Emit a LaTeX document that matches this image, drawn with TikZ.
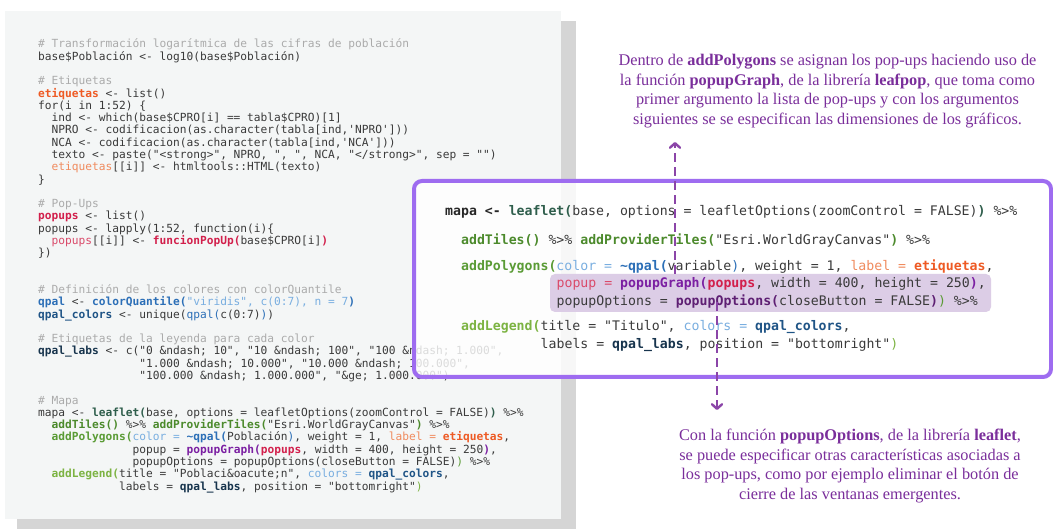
\documentclass[tikz,border=0pt]{standalone}
\usepackage{fontspec}
\setmainfont{Liberation Serif}
\setmonofont{DejaVu Sans Mono}
\usetikzlibrary{arrows.meta}

% syntax colours
\definecolor{cmt}{HTML}{ABABAB}
\definecolor{txt}{HTML}{3A3A3A}
\definecolor{orn}{HTML}{EE5A24}
\definecolor{ornl}{HTML}{F08B5E}
\definecolor{crm}{HTML}{D21F4B}
\definecolor{crml}{HTML}{DA4A6A}
\definecolor{blu}{HTML}{2C6FB7}
\definecolor{blul}{HTML}{79AEE0}
\definecolor{nav}{HTML}{1F5486}
\definecolor{nvd}{HTML}{17344D}
\definecolor{tea}{HTML}{2F5E4C}
\definecolor{grn}{HTML}{4C8A2C}
\definecolor{grm}{HTML}{5A9B35}
\definecolor{grl}{HTML}{7CB342}
\definecolor{pur}{HTML}{7B1FA2}
\definecolor{pud}{HTML}{5E1F73}
% page colours
\definecolor{panelbg}{HTML}{F4F6F6}
\definecolor{panelsh}{HTML}{D5D5D5}
\definecolor{boxline}{HTML}{9E6CF0}
\definecolor{hlfill}{HTML}{DCCDE6}
\definecolor{notecol}{HTML}{7A2E9B}
\definecolor{arrcol}{HTML}{8B45A8}

\tikzset{
  lcode/.style={anchor=base west, inner sep=0pt, text=txt,
    font=\ttfamily\fontsize{11.2}{12.28}\selectfont},
  bcode/.style={anchor=base west, inner sep=0pt, text=txt,
    font=\ttfamily\fontsize{13.2}{18}\selectfont},
  note/.style={align=center, text=notecol, inner sep=0pt,
    font=\fontsize{16.3}{19.7}\selectfont},
  callout/.style={draw=arrcol, line width=2.7pt, dash pattern=on 9pt off 5pt,
    -{Straight Barb[length=4.5pt,width=10pt,line width=2.4pt,round]}},
}

% left listing: name, indent (chars), row, text
\newcommand\codeL[4]{\node[lcode] (#1) at ({38+#2*6.75},{48+12.28*#3}) {#4};}
% framed listing: name, indent (chars), baseline, text
\newcommand\codeB[4]{\node[bcode] (#1) at ({445+#2*7.96},{#3}) {#4};}

\begin{document}
\begin{tikzpicture}[x=1pt,y=-1pt]
\useasboundingbox (0,0) rectangle (1053,529);
\fill[white] (0,0) rectangle (1053,529);

% script panel with its drop shadow
\fill[panelsh] (17,21) rectangle (576,535);
\fill[panelbg] (5,11) rectangle (561,519);

\codeL{l0}{0}{0}{\textcolor{cmt}{\# Transformación logarítmica de las cifras de población}}
\codeL{l1}{0}{1}{base\$Población <- log10(base\$Población)}
\codeL{l3}{0}{3}{\textcolor{cmt}{\# Etiquetas}}
\codeL{l4}{0}{4}{\textcolor{orn}{\bfseries etiquetas} <- list()}
\codeL{l5}{0}{5}{for(i in 1:52) \{}
\codeL{l6}{2}{6}{ind <- which(base\$CPRO[i] == tabla\$CPRO)[1]}
\codeL{l7}{2}{7}{NPRO <- codificacion(as.character(tabla[ind,'NPRO']))}
\codeL{l8}{2}{8}{NCA <- codificacion(as.character(tabla[ind,'NCA']))}
\codeL{l9}{2}{9}{texto <- paste("<strong>", NPRO, ", ", NCA, "</strong>", sep = "")}
\codeL{l10}{2}{10}{\textcolor{ornl}{etiquetas}[[i]] <- htmltools::HTML(texto)}
\codeL{l11}{0}{11}{\}}
\codeL{l13}{0}{13}{\textcolor{cmt}{\# Pop-Ups}}
\codeL{l14}{0}{14}{\textcolor{crm}{\bfseries popups} <- list()}
\codeL{l15}{0}{15}{popups <- lapply(1:52, function(i)\{}
\codeL{l16}{2}{16}{\textcolor{crml}{popups}[[i]] <- \textcolor{crm}{\bfseries funcionPopUp(}base\$CPRO[i]\textcolor{crm}{\bfseries )}}
\codeL{l17}{0}{17}{\})}
\codeL{l20}{0}{20}{\textcolor{cmt}{\# Definición de los colores con colorQuantile}}
\codeL{l21}{0}{21}{\textcolor{blu}{\bfseries qpal} <- \textcolor{blu}{\bfseries colorQuantile(}\textcolor{blul}{"viridis", c(0:7), n = 7}\textcolor{blu}{\bfseries )}}
\codeL{l22}{0}{22}{\textcolor{nav}{\bfseries qpal\_colors} <- unique(\textcolor{blu}{qpal(}c(0:7)\textcolor{blu}{)})}
\codeL{l24}{0}{24}{\textcolor{cmt}{\# Etiquetas de la leyenda para cada color}}
\codeL{l25}{0}{25}{\textcolor{nvd}{\bfseries qpal\_labs} <- c("0 \&ndash; 10", "10 \&ndash; 100", "100 \&ndash; 1.000",}
\codeL{l26}{15}{26}{"1.000 \&ndash; 10.000", "10.000 \&ndash; 100.000",}
\codeL{l27}{15}{27}{"100.000 \&ndash; 1.000.000", "\&ge; 1.000.000")}
\codeL{l29}{0}{29}{\textcolor{cmt}{\# Mapa}}
\codeL{l30}{0}{30}{mapa <- \textcolor{tea}{\bfseries leaflet(}base, options = leafletOptions(zoomControl = FALSE)\textcolor{tea}{\bfseries )} \%>\%}
\codeL{l31}{2}{31}{\textcolor{grn}{\bfseries addTiles()} \%>\% \textcolor{grn}{\bfseries addProviderTiles(}"Esri.WorldGrayCanvas"\textcolor{grn}{\bfseries )} \%>\%}
\codeL{l32}{2}{32}{\textcolor{grm}{\bfseries addPolygons(}\textcolor{blul}{color = }\textcolor{blu}{\bfseries\textasciitilde qpal(}Población\textcolor{blu}{)}, weight = 1, \textcolor{ornl}{label = }\textcolor{orn}{\bfseries etiquetas},}
\codeL{l33}{14}{33}{popup = \textcolor{pur}{\bfseries popupGraph(}\textcolor{crm}{\bfseries popups}, width = 400, height = 250\textcolor{pur}{\bfseries )},}
\codeL{l34}{14}{34}{popupOptions = popupOptions(closeButton = FALSE)\textcolor{grm}{)} \%>\%}
\codeL{l35}{2}{35}{\textcolor{grl}{\bfseries addLegend(}title = "Poblaci\&oacute;n", \textcolor{blul}{colors = }\textcolor{nav}{\bfseries qpal\_colors},}
\codeL{l36}{12}{36}{labels = \textcolor{nvd}{\bfseries qpal\_labs}, position = "bottomright"\textcolor{grl}{)}}

% framed excerpt of the map call
\draw[boxline, line width=4pt, rounded corners=8pt, fill=white, fill opacity=0.82]
  (414,181) rectangle (1051,377);
\node[fill=hlfill, rounded corners=5pt, inner sep=0pt,
  minimum width=441pt, minimum height=38pt] (hl) at (770.5,293) {};

\codeB{b0}{0}{216}{\textcolor{black!85}{\bfseries mapa <-} \textcolor{tea}{\bfseries leaflet(}base, options = leafletOptions(zoomControl = FALSE)\textcolor{tea}{\bfseries )} \%>\%}
\codeB{b1}{2}{245}{\textcolor{grn}{\bfseries addTiles()} \%>\% \textcolor{grn}{\bfseries addProviderTiles(}"Esri.WorldGrayCanvas"\textcolor{grn}{\bfseries )} \%>\%}
\codeB{b2}{2}{271}{\textcolor{grm}{\bfseries addPolygons(}\textcolor{blul}{color = }\textcolor{blu}{\bfseries\textasciitilde qpal(}variable\textcolor{blu}{)}, weight = 1, \textcolor{ornl}{label = }\textcolor{orn}{\bfseries etiquetas},}
\codeB{b3}{14}{288}{\textcolor{crml}{popup = }\textcolor{pur}{\bfseries popupGraph(}\textcolor{crm}{\bfseries popups}, width = 400, height = 250\textcolor{pur}{\bfseries )},}
\codeB{b4}{14}{306}{popupOptions = \textcolor{pud}{\bfseries popupOptions(}closeButton = FALSE\textcolor{pud}{\bfseries )}\textcolor{grm}{)} \%>\%}
\codeB{b5}{2}{331}{\textcolor{grl}{\bfseries addLegend(}title = "Titulo", \textcolor{blul}{colors = }\textcolor{nav}{\bfseries qpal\_colors},}
\codeB{b6}{12}{349}{labels = \textcolor{nvd}{\bfseries qpal\_labs}, position = "bottomright"\textcolor{grl}{)}}

% explanatory notes
\node[note] (topnote) at (827.5,91) {Dentro de \textbf{addPolygons} se asignan los pop-ups haciendo uso de\\
la función \textbf{popupGraph}, de la librería \textbf{leafpop}, que toma como\\
primer argumento la lista de pop-ups y con los argumentos\\
siguientes se se especifican las dimensiones de los gráficos.};
\node[note] (botnote) at (850,466) {Con la función \textbf{popupOptions}, de la librería \textbf{leaflet},\\
se puede especificar otras características asociadas a\\
los pop-ups, como por ejemplo eliminar el botón de\\
cierre de las ventanas emergentes.};

% callouts from the highlighted arguments
\coordinate (uptip) at (675,142);
\coordinate (dntip) at (717,410);
\draw[callout] (uptip |- hl.north) -- (uptip);
\draw[callout, shorten <=-10pt] (dntip |- hl.south) -- (dntip);
\end{tikzpicture}
\end{document}
